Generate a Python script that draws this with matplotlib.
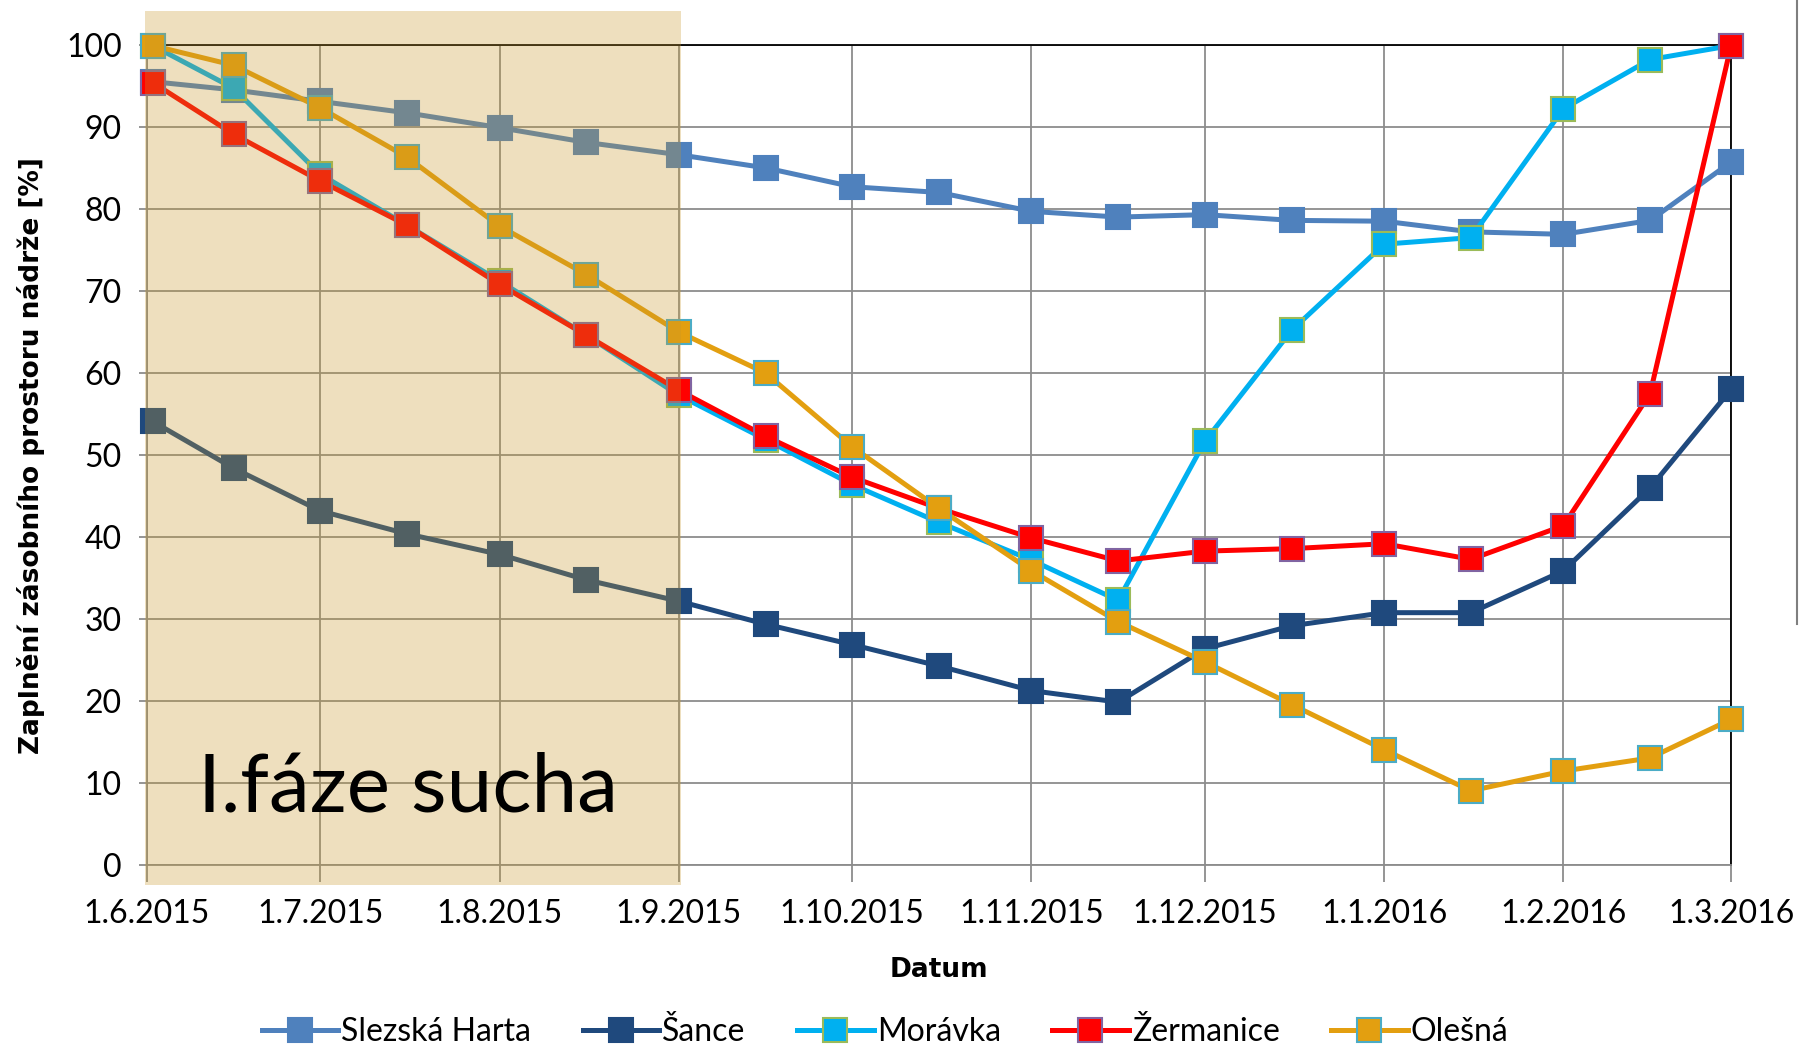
import datetime as dt
import matplotlib
matplotlib.use('Agg')
import matplotlib.pyplot as plt
import matplotlib.dates as mdates
from matplotlib.patches import Rectangle
from matplotlib.lines import Line2D
import matplotlib.transforms as mtransforms

plt.rcParams['font.family'] = ['Lato', 'DejaVu Sans']

# measurement dates
dates = ['2.6.2015', '16.6.2015', '1.7.2015', '16.7.2015', '1.8.2015', '16.8.2015',
         '1.9.2015', '16.9.2015', '1.10.2015', '16.10.2015', '1.11.2015', '16.11.2015',
         '1.12.2015', '16.12.2015', '1.1.2016', '16.1.2016', '1.2.2016', '16.2.2016',
         '1.3.2016']

slezska_harta = [95.5, 94.5, 93.1, 91.7, 89.9, 88.1, 86.6, 85.0, 82.7, 82.0, 79.7, 79.0,
                 79.3, 78.6, 78.5, 77.2, 76.9, 78.6, 85.7]
sance = [54.1, 48.4, 43.2, 40.4, 37.9, 34.8, 32.2, 29.4, 26.9, 24.3, 21.3, 19.9,
         26.4, 29.2, 30.8, 30.8, 35.9, 46.0, 58.0]
moravka = [99.9, 94.7, 84.2, 78.0, 71.2, 64.6, 57.3, 51.9, 46.4, 41.8, 37.2, 32.3,
           51.7, 65.2, 75.7, 76.5, 92.2, 98.2, 99.9]
zermanice = [95.4, 89.1, 83.4, 78.0, 70.8, 64.6, 57.9, 52.3, 47.3, 43.5, 39.9, 37.1,
             38.3, 38.6, 39.2, 37.3, 41.4, 57.5, 99.9]
olesna = [99.9, 97.5, 92.3, 86.3, 77.9, 72.0, 65.0, 60.0, 51.0, 43.5, 35.9, 29.7,
          24.8, 19.6, 14.1, 9.1, 11.5, 13.1, 17.8]

tick_dates = ['1.6.2015', '1.7.2015', '1.8.2015', '1.9.2015', '1.10.2015', '1.11.2015',
              '1.12.2015', '1.1.2016', '1.2.2016', '1.3.2016']

def d(s):
    return dt.datetime.strptime(s, '%d.%m.%Y')

x = [d(s) for s in dates]
ticks = [d(s) for s in tick_dates]

fig = plt.figure(figsize=(18, 10.48), dpi=100)
ax = fig.add_axes([0.0816, 0.1742, 0.8801, 0.7831])

series = [
    ('Slezská Harta', slezska_harta, '#4F81BD', '#4F81BD'),
    ('Šance', sance, '#1F497D', '#1F497D'),
    ('Morávka', moravka, '#00B0F0', '#9BBB59'),
    ('Žermanice', zermanice, '#FF0000', '#8064A2'),
    ('Olešná', olesna, '#E39F10', '#4BACC6'),
]
for name, vals, col, edge in series:
    ax.plot(x, vals, color=col, lw=3.6, marker='s', ms=17.5, mfc=col, mec=edge,
            mew=1.5, label=name, clip_on=False, zorder=3)

ax.set_xlim(ticks[0], ticks[-1])
ax.set_ylim(0, 100)
ax.set_yticks(range(0, 101, 10))
ax.set_xticks(ticks)
ax.set_xticklabels(tick_dates)
ax.grid(True, color='#8c8c8c', lw=1.3, zorder=1)
ax.set_axisbelow(True)

for s in ['top', 'right']:
    ax.spines[s].set_color('black')
    ax.spines[s].set_linewidth(1.3)
for s in ['left', 'bottom']:
    ax.spines[s].set_color('#8c8c8c')
    ax.spines[s].set_linewidth(1.3)

ax.tick_params(axis='y', labelsize=23, length=6, pad=12, color='#8c8c8c', width=1.3)
ax.tick_params(axis='x', labelsize=23, length=12, pad=12, color='#8c8c8c', width=1.3)

ax.set_xlabel('Datum', fontsize=19, fontweight='bold', family='DejaVu Sans', va='center')
ax.xaxis.set_label_coords(0.5, -0.128)
ax.set_ylabel('Zaplnění zásobního prostoru nádrže [%]', fontsize=19, fontweight='bold',
              family='DejaVu Sans', va='center')
ax.yaxis.set_label_coords(-0.073, 0.5)

# shaded drought phase overlay
trans = mtransforms.blended_transform_factory(ax.transData, ax.transAxes)
x0 = mdates.date2num(ticks[0]) - 0.4
x1 = mdates.date2num(ticks[3]) + 0.4
ax.add_patch(Rectangle((x0, -0.024), x1 - x0, 1.065, transform=trans,
                       facecolor='#C89828', alpha=0.3, edgecolor='none',
                       clip_on=False, zorder=5))
ax.text(0.032, 0.066, 'I.fáze sucha', transform=ax.transAxes, fontsize=59,
        ha='left', va='baseline', color='black', zorder=6)

ax.legend(loc='center', bbox_to_anchor=(0.4917, 0.0155), bbox_transform=fig.transFigure,
          ncol=5, frameon=False, fontsize=23, handlelength=2.4, columnspacing=1.6,
          handletextpad=0.1, markerscale=1.0)

# frame edge on the right of the cropped chart
fig.add_artist(Line2D([0.9985, 0.9985], [1.0, 0.405], color='#7f7f7f', lw=1.5))

fig.savefig('out.png', dpi=100)
